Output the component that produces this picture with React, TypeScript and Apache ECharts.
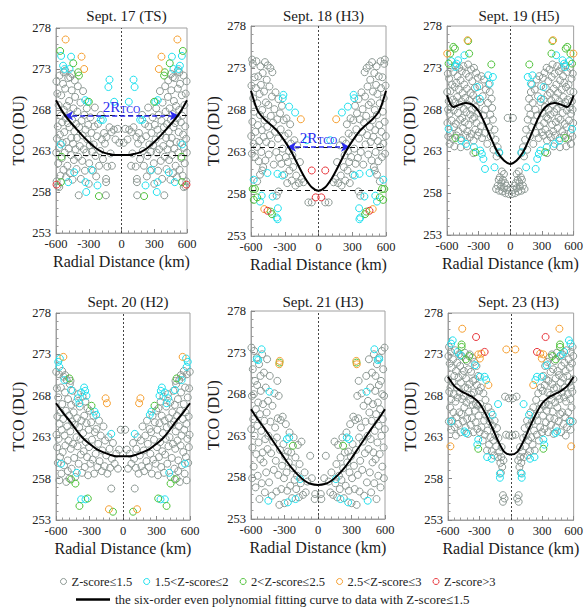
import React, { useEffect, useRef } from 'react';
import * as echarts from 'echarts';

const FONT = 'Liberation Serif';

// Z-score classes and their colours
const zLabels = ['Z-score≤1.5', '1.5<Z-score≤2', '2<Z-score≤2.5', '2.5<Z-score≤3', 'Z-score>3'];
const zColors = ['#8d9994', '#1fe0ee', '#4fc23a', '#f6a032', '#e8363c'];
const curveLabel = 'the six-order even polynomial fitting curve to data with Z-score≤1.5';

const panelTitles = ['Sept. 17 (TS)', 'Sept. 18 (H3)', 'Sept. 19 (H5)', 'Sept. 20 (H2)', 'Sept. 21 (H3)', 'Sept. 23 (H3)'];

// axis ranges
const xRange = [-600, 600, 300];
const yRange = [253, 278, 5];

// Every panel is symmetric about 0 km: only the positive half is listed here,
// as [radial distance (km), TCO (DU)].

// ---- Sept. 17 ----
const p1Grey = [
  [20, 264.0], [35, 265.7], [70, 265.6], [92, 265.3], [110, 265.9], [55, 264.4], [100, 262.7], [88, 261.2],
  [130, 261.1], [141, 259.2], [141, 259.6], [143, 257.6], [152, 263.9], [137, 264.7], [160, 265.2], [170, 262.0],
  [180, 264.4], [195, 263.0], [205, 261.2], [215, 266.3], [225, 264.8], [232, 259.9], [238, 262.4], [248, 266.0],
  [255, 263.8], [244, 268.3], [190, 267.4], [262, 260.6], [270, 262.9], [275, 265.2], [285, 267.1], [290, 263.7],
  [296, 261.5], [300, 259.0], [305, 266.2], [312, 264.4], [318, 268.2], [322, 262.8], [330, 265.6], [335, 260.6],
  [340, 267.4], [345, 263.2], [352, 270.3], [356, 264.9], [360, 261.8], [366, 266.7], [372, 259.6], [376, 268.9],
  [382, 263.6], [388, 265.9], [392, 257.6], [396, 262.3], [400, 270.9], [404, 267.8], [408, 264.6], [412, 260.8],
  [416, 266.3], [420, 263.2], [425, 269.6], [428, 271.6], [432, 265.4], [436, 261.9], [440, 268.2], [444, 263.9],
  [448, 259.5], [452, 266.8], [456, 270.4], [460, 264.6], [464, 262.5], [468, 267.5], [472, 260.3], [476, 265.9],
  [480, 269.1], [484, 263.3], [488, 271.9], [492, 266.4], [496, 261.2], [500, 268.5], [504, 264.1], [508, 259.8],
  [512, 267.0], [516, 270.6], [520, 262.8], [524, 265.3], [528, 268.0], [532, 260.7], [536, 271.2], [540, 264.0],
  [544, 266.5], [548, 262.1], [552, 269.8], [556, 267.3], [560, 260.0], [564, 265.0], [568, 272.2], [572, 263.4],
  [576, 268.6], [580, 261.5], [584, 266.0], [588, 270.0], [592, 264.5], [596, 271.5], [598, 262.8], [594, 259.3],
  [586, 258.7], [570, 258.6], [455, 272.4], [470, 272.0], [530, 272.6], [515, 272.8],
];
const p1Cyan = [
  [110, 271.7], [120, 270.8], [67, 269.0], [171, 266.8], [190, 266.8], [310, 269.0], [332, 269.2], [462, 274.5],
  [553, 274.6], [535, 273.4], [476, 273.0], [522, 273.0], [556, 263.8], [275, 260.7], [220, 258.8], [330, 259.2],
  [323, 258.0], [433, 260.4], [488, 259.2],
];
const p1Green = [[562, 275.2], [442, 273.7], [397, 272.6], [390, 272.2], [299, 269.0], [549, 262.3], [555, 259.2], [207, 257.5]];
const p1Orange = [[512, 276.6], [366, 274.5], [342, 273.0]];
const p1Red = [[595, 258.9]];
const p1Curve = [
  [0, 262.5], [60, 262.5], [120, 262.65], [180, 262.9], [240, 263.4], [300, 264.1],
  [360, 264.9], [420, 265.8], [480, 266.7], [540, 267.8], [600, 269.2],
];
const p1Guides = [267.3, 262.5];
const p1Span = [525, 267.3];

// ---- Sept. 18 ----
const p2Grey = [
  [60, 257.0], [90, 257.0], [134, 259.4], [150, 259.8], [165, 261.8], [175, 259.3], [190, 263.8], [198, 260.2],
  [205, 259.0], [215, 264.4], [225, 261.2], [232, 262.6], [238, 259.6], [245, 264.0], [252, 266.3], [258, 260.8],
  [262, 263.1], [268, 265.2], [272, 261.8], [278, 259.3], [285, 267.0], [290, 262.4], [300, 264.9], [305, 260.3],
  [310, 266.8], [318, 263.4], [325, 268.5], [330, 261.6], [336, 265.7], [342, 267.6], [350, 262.3], [356, 269.3],
  [360, 264.6], [366, 266.9], [372, 257.8], [356, 258.3], [376, 263.0], [382, 270.1], [388, 265.4], [392, 268.1],
  [398, 261.5], [404, 266.5], [410, 272.5], [414, 269.6], [418, 263.9], [424, 267.3], [428, 273.0], [432, 265.0],
  [436, 270.8], [442, 262.7], [446, 268.6], [452, 273.3], [456, 266.0], [460, 271.6], [464, 264.2], [468, 268.9],
  [472, 262.0], [476, 273.7], [480, 266.8], [484, 270.2], [488, 264.8], [492, 261.2], [496, 272.4], [500, 268.0],
  [504, 265.6], [508, 263.0], [512, 271.0], [516, 273.2], [520, 267.4], [524, 269.9], [528, 264.3], [532, 261.9],
  [536, 272.0], [540, 266.2], [544, 268.8], [548, 263.6], [552, 273.8], [556, 270.6], [560, 265.4], [564, 262.4],
  [568, 271.9], [572, 267.8], [576, 264.0], [580, 269.4], [584, 273.5], [588, 266.6], [592, 262.8], [596, 270.9],
  [598, 264.9], [590, 274.0], [520, 260.3], [545, 259.5], [500, 260.8],
];
const p2Cyan = [
  [312, 269.8], [318, 269.4], [261, 268.4], [208, 267.7], [104, 264.4], [321, 260.2], [365, 260.4], [454, 260.5],
  [576, 259.7], [505, 257.8], [520, 257.1], [408, 257.7], [361, 256.3], [364, 255.0], [372, 255.2],
];
const p2Green = [[585, 258.6], [565, 258.6], [575, 257.3], [545, 257.6], [414, 255.6], [425, 255.9]];
const p2Orange = [[157, 266.9], [482, 256.2]];
const p2Red = [[60, 260.8], [25, 257.6], [453, 256.0]];
const p2Curve = [
  [0, 258.4], [60, 258.8], [120, 259.9], [180, 261.4], [240, 263.0], [300, 264.3],
  [360, 265.4], [420, 266.2], [480, 266.9], [540, 267.9], [600, 270.3],
];
const p2Guides = [263.6, 258.4];
const p2Span = [280, 263.6];

// ---- Sept. 19 ----
const p3Grey = [
  [15, 257.9], [30, 258.4], [45, 258.0], [60, 258.6], [75, 258.2], [90, 258.8], [105, 258.3], [120, 258.9],
  [135, 258.5], [50, 259.2], [70, 259.6], [85, 259.3], [100, 259.9], [60, 260.3], [80, 260.6], [40, 258.9],
  [110, 259.6], [25, 267.0], [105, 262.8], [120, 263.5], [130, 262.4], [140, 264.4], [150, 265.6], [160, 263.2],
  [165, 266.8], [172, 268.2], [178, 269.3], [185, 264.8], [190, 267.4], [195, 270.1], [200, 265.9], [205, 271.0],
  [212, 268.8], [218, 263.9], [225, 266.6], [232, 270.4], [238, 268.0], [244, 265.2], [250, 271.6], [256, 267.3],
  [262, 269.6], [268, 264.6], [274, 272.0], [280, 266.0], [286, 268.9], [292, 270.8], [298, 265.3], [304, 267.6],
  [308, 271.8], [312, 264.9], [316, 269.2], [320, 266.4], [324, 272.4], [328, 268.3], [332, 265.6], [336, 270.6],
  [340, 267.1], [344, 273.0], [348, 264.3], [352, 269.7], [356, 266.9], [360, 271.4], [364, 268.0], [368, 265.1],
  [372, 272.8], [376, 270.0], [380, 267.4], [384, 264.7], [388, 269.1], [392, 271.9], [396, 266.2], [400, 273.4],
  [404, 268.6], [408, 265.4], [412, 270.5], [416, 267.7], [420, 272.3], [424, 264.9], [428, 269.4], [432, 266.5],
  [436, 271.0], [440, 268.1], [444, 273.2], [448, 265.8], [452, 270.0], [456, 267.0], [460, 272.6], [464, 269.0],
  [468, 264.6], [472, 271.5], [476, 266.8], [480, 268.6], [484, 273.0], [488, 270.4], [492, 265.4], [496, 267.6],
  [500, 272.0], [504, 269.5], [508, 264.9], [512, 271.2], [516, 266.3], [520, 268.9], [524, 273.3], [528, 270.7],
  [532, 265.9], [536, 267.9], [540, 272.5], [544, 269.2], [548, 264.5], [552, 271.0], [556, 266.7], [560, 268.3],
  [564, 273.0], [568, 270.2], [572, 265.2], [576, 267.5], [580, 271.7], [584, 269.0], [588, 264.8], [592, 272.3],
  [596, 266.4], [598, 270.1], [590, 268.0], [575, 263.9], [530, 263.6], [470, 263.5], [410, 263.6], [350, 262.8],
];
const p3Cyan = [
  [165, 271.9], [210, 272.1], [195, 271.1], [315, 270.7], [290, 269.3], [435, 274.5], [495, 273.9], [510, 273.5],
  [520, 273.1], [585, 265.7], [465, 264.3], [420, 263.9], [345, 263.5], [285, 263.1], [270, 262.7], [255, 262.1],
  [150, 261.1], [240, 260.9], [105, 262.9], [560, 273.8],
];
const p3Green = [[180, 273.4], [399, 276.2], [390, 274.7], [525, 275.3], [540, 275.5], [570, 274.7], [585, 273.5], [330, 262.9], [520, 264.6]];
const p3Orange = [[405, 276.3], [598, 274.7]];
const p3Red: number[][] = [];
const p3Curve = [
  [0, 261.5], [60, 261.9], [120, 262.9], [180, 264.5], [240, 266.3], [300, 267.8],
  [360, 268.6], [420, 268.8], [480, 268.6], [540, 268.3], [600, 269.7],
];

// ---- Sept. 20 ----
const p4Grey = [
  [20, 263.9], [105, 256.8], [35, 261.5], [45, 259.2], [60, 261.0], [75, 259.8], [90, 262.3], [100, 260.4],
  [115, 259.3], [120, 261.6], [130, 263.0], [140, 258.6], [150, 260.8], [160, 262.6], [165, 259.5], [175, 264.3],
  [185, 261.4], [190, 258.9], [200, 263.2], [210, 260.1], [215, 265.0], [222, 262.2], [230, 259.4], [238, 264.0],
  [245, 261.0], [252, 263.6], [258, 258.6], [265, 265.6], [272, 260.3], [278, 262.7], [285, 264.8], [292, 259.8],
  [298, 266.2], [304, 261.8], [308, 263.9], [313, 258.4], [318, 266.5], [322, 260.6], [327, 264.7], [332, 262.4],
  [337, 267.3], [342, 259.4], [347, 265.6], [352, 261.3], [357, 263.5], [362, 267.9], [367, 258.7], [372, 265.0],
  [377, 260.9], [382, 262.8], [387, 266.7], [392, 264.2], [397, 259.8], [402, 268.2], [407, 261.9], [412, 265.3],
  [417, 263.0], [422, 267.2], [427, 258.2], [432, 264.5], [437, 260.5], [442, 266.0], [447, 262.2], [452, 268.6],
  [456, 264.9], [460, 259.2], [464, 266.9], [468, 261.6], [472, 263.7], [476, 269.4], [480, 258.0], [484, 265.6],
  [488, 262.6], [492, 267.6], [496, 260.2], [500, 264.3], [504, 269.9], [508, 257.6], [512, 266.2], [516, 262.0],
  [520, 268.4], [524, 263.2], [528, 259.6], [532, 270.3], [536, 265.2], [540, 261.2], [544, 267.0], [548, 263.9],
  [552, 258.6], [556, 269.0], [560, 266.0], [564, 260.6], [568, 264.6], [572, 270.6], [576, 262.8], [580, 267.8],
  [584, 259.9], [588, 265.5], [592, 268.9], [596, 263.3], [598, 270.9], [590, 261.8], [570, 257.8], [545, 271.0],
  [518, 270.5], [494, 258.9], [470, 269.8],
];
const p4Cyan = [
  [570, 271.5], [580, 272.1], [565, 272.5], [525, 269.9], [465, 268.7], [375, 268.4], [348, 269.0], [339, 268.6],
  [327, 268.0], [405, 267.7], [390, 267.1], [255, 266.1], [240, 265.7], [105, 263.4], [555, 259.8], [414, 258.7],
  [375, 255.5], [336, 255.5],
];
const p4Green = [[480, 270.1], [282, 266.8], [465, 257.9], [426, 257.4], [315, 255.6], [390, 254.7], [90, 254.0]];
const p4Orange = [[534, 272.7], [156, 267.7], [144, 267.1], [126, 254.3]];
const p4Red: number[][] = [];
const p4Curve = [
  [0, 260.7], [60, 260.7], [120, 260.9], [180, 261.2], [240, 261.6], [300, 262.2],
  [360, 262.9], [420, 263.9], [480, 265.0], [540, 266.0], [600, 267.1],
];

// ---- Sept. 21 ----
const p5Grey = [
  [30, 255.4], [25, 256.0], [70, 260.6], [55, 257.9], [95, 257.5], [110, 256.2], [120, 258.6], [135, 255.9],
  [148, 262.3], [155, 257.3], [165, 259.6], [172, 255.6], [180, 261.9], [188, 258.2], [195, 256.6], [202, 260.4],
  [210, 257.7], [218, 262.8], [225, 259.1], [232, 255.5], [240, 261.0], [248, 257.0], [255, 263.4], [262, 259.8],
  [270, 261.1], [276, 256.4], [282, 258.6], [288, 264.4], [294, 260.5], [300, 254.9], [305, 257.9], [310, 262.0],
  [316, 265.3], [322, 259.4], [328, 256.6], [334, 264.9], [340, 261.3], [346, 254.7], [352, 267.8], [356, 258.3],
  [360, 265.1], [364, 269.6], [368, 262.8], [372, 256.3], [378, 260.0], [384, 264.0], [390, 268.1], [396, 258.9],
  [402, 262.3], [408, 266.6], [414, 255.8], [420, 260.9], [426, 264.7], [432, 270.2], [438, 257.4], [444, 263.0],
  [448, 267.2], [452, 261.4], [456, 272.2], [460, 265.8], [464, 258.6], [468, 268.8], [472, 262.6], [476, 256.2],
  [480, 264.8], [484, 270.6], [488, 259.8], [492, 266.8], [496, 261.0], [500, 272.8], [504, 257.3], [508, 263.6],
  [512, 268.4], [516, 260.2], [520, 265.6], [524, 255.4], [528, 271.6], [532, 262.2], [536, 267.0], [540, 258.2],
  [544, 264.2], [548, 272.4], [552, 260.8], [556, 266.2], [560, 256.8], [564, 269.6], [568, 263.0], [572, 273.2],
  [576, 259.3], [580, 265.0], [584, 271.0], [588, 261.6], [592, 267.8], [596, 273.6], [598, 263.8], [590, 257.9],
  [575, 268.0], [545, 269.1], [515, 270.2],
];
const p5Cyan = [
  [505, 273.4], [535, 272.1], [548, 272.2], [435, 268.3], [258, 262.8], [279, 262.6], [160, 257.8], [201, 255.4],
  [270, 255.0], [445, 255.2],
];
const p5Green = [[225, 261.8], [345, 271.8]];
const p5Orange = [[343, 272.0], [347, 271.6]];
const p5Red: number[][] = [];
const p5Curve = [
  [0, 257.1], [60, 257.2], [120, 257.6], [180, 258.3], [240, 259.2], [300, 260.3],
  [360, 261.5], [420, 262.7], [480, 263.9], [540, 265.0], [600, 266.2],
];

// ---- Sept. 23 ----
const p6Grey = [
  [15, 263.2], [45, 263.3], [20, 267.7], [55, 267.9], [60, 255.6], [75, 256.0], [75, 255.2], [70, 260.2],
  [82, 259.4], [90, 260.6], [95, 258.7], [100, 259.9], [88, 261.8], [110, 261.2], [118, 262.9], [125, 260.6],
  [132, 264.1], [140, 261.9], [148, 263.2], [155, 265.0], [160, 260.8], [168, 262.6], [175, 264.4], [182, 261.3],
  [188, 266.0], [195, 263.0], [202, 264.9], [208, 262.1], [215, 266.6], [222, 263.8], [228, 261.4], [235, 265.6],
  [242, 267.5], [248, 263.3], [255, 265.0], [262, 268.3], [268, 262.6], [274, 266.4], [280, 264.2], [286, 269.0],
  [292, 267.0], [298, 263.6], [304, 268.6], [308, 265.6], [312, 270.4], [316, 266.8], [320, 264.0], [324, 269.3],
  [328, 271.6], [332, 267.0], [336, 264.8], [340, 270.0], [344, 266.2], [348, 272.1], [352, 268.4], [356, 263.6],
  [360, 269.8], [364, 266.9], [368, 272.6], [372, 265.3], [376, 268.1], [380, 270.9], [384, 264.5], [388, 267.5],
  [392, 273.0], [396, 269.4], [400, 266.1], [404, 271.2], [408, 263.4], [412, 268.9], [416, 265.2], [420, 272.2],
  [424, 267.2], [428, 270.1], [432, 264.2], [436, 269.0], [440, 273.2], [444, 266.6], [448, 271.0], [452, 268.0],
  [456, 264.9], [460, 270.5], [464, 267.6], [468, 272.8], [472, 265.8], [476, 269.6], [480, 263.6], [484, 271.6],
  [488, 268.4], [492, 266.0], [496, 273.0], [500, 270.2], [504, 264.6], [508, 267.8], [512, 272.0], [516, 269.0],
  [520, 265.4], [524, 271.0], [528, 267.3], [532, 273.5], [536, 264.2], [540, 270.4], [544, 268.2], [548, 266.0],
  [552, 272.4], [556, 269.6], [560, 265.0], [564, 271.4], [568, 267.6], [572, 273.3], [576, 269.0], [580, 266.6],
  [584, 271.9], [588, 268.5], [592, 264.9], [596, 272.8], [598, 270.0], [590, 273.9], [570, 263.9], [525, 263.2],
];
const p6Cyan = [
  [555, 274.7], [570, 274.3], [509, 273.3], [479, 272.9], [342, 271.7], [250, 270.3], [296, 270.3], [235, 269.9],
  [122, 267.0], [174, 265.7], [427, 263.5], [442, 263.7], [570, 264.9], [311, 262.7], [320, 262.1], [226, 260.6],
  [183, 260.4], [104, 258.6], [104, 258.1],
];
const p6Green = [[470, 274.2], [470, 273.9], [397, 272.8], [311, 261.6], [430, 272.4]];
const p6Orange = [[464, 276.1], [43, 273.6], [281, 273.1], [311, 273.0], [296, 272.5], [214, 269.3], [577, 261.9]];
const p6Red = [[332, 275.1], [250, 273.3]];
const p6Curve = [
  [0, 260.9], [60, 261.2], [120, 262.5], [180, 264.2], [240, 265.8], [300, 267.1],
  [360, 267.8], [420, 268.2], [480, 268.6], [540, 269.2], [600, 270.3],
];

type Panel = {
  groups: number[][][];
  curve: number[][];
  guides?: number[];
  span?: number[];
};

const panels: Panel[] = [
  { groups: [p1Grey, p1Cyan, p1Green, p1Orange, p1Red], curve: p1Curve, guides: p1Guides, span: p1Span },
  { groups: [p2Grey, p2Cyan, p2Green, p2Orange, p2Red], curve: p2Curve, guides: p2Guides, span: p2Span },
  { groups: [p3Grey, p3Cyan, p3Green, p3Orange, p3Red], curve: p3Curve },
  { groups: [p4Grey, p4Cyan, p4Green, p4Orange, p4Red], curve: p4Curve },
  { groups: [p5Grey, p5Cyan, p5Green, p5Orange, p5Red], curve: p5Curve },
  { groups: [p6Grey, p6Cyan, p6Green, p6Orange, p6Red], curve: p6Curve },
];

// plot areas in pixels
const gridBoxes = [
  { left: 56, top: 28, width: 131, height: 205 },
  { left: 251, top: 26, width: 135, height: 210 },
  { left: 447, top: 26, width: 134, height: 209 },
  { left: 56, top: 313, width: 134, height: 207 },
  { left: 251, top: 311, width: 134, height: 208 },
  { left: 448, top: 313, width: 131, height: 207 },
];

// reflect the positive half onto negative distances
const mirror = (pts: number[][]) => [
  ...pts.filter((p) => p[0] !== 0).map(([x, y]) => [-x, y]).reverse(),
  ...pts,
];

const BLUE = '#2a2af0';

function buildOption() {
  const grid = gridBoxes.map((b) => ({
    ...b,
    show: true,
    borderColor: '#a0a0a0',
    borderWidth: 1,
    backgroundColor: 'transparent',
  }));

  const title = panelTitles.map((t, i) => ({
    text: t,
    left: gridBoxes[i].left + gridBoxes[i].width / 2,
    top: i < 3 ? 3 : 289,
    textAlign: 'center',
    textStyle: { fontFamily: FONT, fontSize: 15, fontWeight: 400, color: '#1a1a1a' },
  }));

  const nameStyle = { fontFamily: FONT, fontSize: 16, fontWeight: 400, color: '#1a1a1a' };
  const tickLabel = { fontFamily: FONT, fontSize: 12.5, color: '#222' };

  const xAxis = gridBoxes.map((_, i) => ({
    gridIndex: i,
    type: 'value',
    min: xRange[0],
    max: xRange[1],
    interval: xRange[2],
    name: 'Radial Distance (km)',
    nameLocation: 'middle',
    nameGap: 20,
    nameTextStyle: nameStyle,
    axisLine: { show: true, onZero: false, lineStyle: { color: '#a0a0a0' } },
    axisTick: { show: true, inside: true, length: 4, lineStyle: { color: '#888' } },
    minorTick: { show: true, splitNumber: 5, length: 2.5, lineStyle: { color: '#999' } },
    axisLabel: { ...tickLabel, margin: 4 },
    splitLine: { show: false },
  }));

  const yAxis = gridBoxes.map((_, i) => ({
    gridIndex: i,
    type: 'value',
    min: yRange[0],
    max: yRange[1],
    interval: yRange[2],
    name: 'TCO (DU)',
    nameLocation: 'middle',
    nameGap: 30,
    nameTextStyle: nameStyle,
    axisLine: { show: true, onZero: false, lineStyle: { color: '#a0a0a0' } },
    axisTick: { show: true, inside: true, length: 4, lineStyle: { color: '#888' } },
    minorTick: { show: true, splitNumber: 5, length: 2.5, lineStyle: { color: '#999' } },
    axisLabel: { ...tickLabel, margin: 5 },
    splitLine: { show: false },
  }));

  const series: any[] = [];
  panels.forEach((p, i) => {
    p.groups.forEach((pts, k) => {
      series.push({
        type: 'scatter',
        name: zLabels[k],
        xAxisIndex: i,
        yAxisIndex: i,
        data: mirror(pts),
        symbol: 'circle',
        symbolSize: 7,
        silent: true,
        z: 2 + k,
        itemStyle: { color: 'rgba(0,0,0,0)', borderColor: zColors[k], borderWidth: 1, opacity: 1 },
      });
    });

    const markData: any[] = [
      { xAxis: 0, lineStyle: { type: [2, 2], color: '#444', width: 1 } },
    ];
    (p.guides || []).forEach((g) => {
      markData.push({ yAxis: g, lineStyle: { type: [5, 4], color: '#111', width: 1 } });
    });
    if (p.span) {
      const [half, level] = p.span;
      markData.push([
        {
          coord: [-half, level],
          symbol: 'arrow',
          symbolSize: [7, 9],
          lineStyle: { type: [5, 3], color: BLUE, width: 1.5 },
          label: {
            show: true,
            position: 'middle',
            distance: 1,
            formatter: '{a|2R}{b|TCO}',
            rich: {
              a: { fontFamily: FONT, fontSize: 15, color: BLUE },
              b: { fontFamily: FONT, fontSize: 10, color: BLUE, verticalAlign: 'bottom' },
            },
          },
        },
        { coord: [half, level], symbol: 'arrow', symbolSize: [7, 9] },
      ]);
    }

    series.push({
      type: 'line',
      name: curveLabel,
      xAxisIndex: i,
      yAxisIndex: i,
      data: mirror(p.curve),
      smooth: 0.3,
      symbol: 'none',
      silent: true,
      z: 10,
      lineStyle: { color: '#000', width: 2 },
      itemStyle: { color: '#000' },
      markLine: {
        silent: true,
        symbol: 'none',
        label: { show: false },
        data: markData,
      },
    });
  });

  const legend = [
    {
      data: zLabels.map((n, k) => ({
        name: n,
        icon: 'circle',
        itemStyle: { color: 'rgba(0,0,0,0)', borderColor: zColors[k], borderWidth: 1 },
      })),
      left: 55,
      top: 570,
      itemWidth: 6,
      itemHeight: 6,
      itemGap: 11,
      selectedMode: false,
      textStyle: { fontFamily: FONT, fontSize: 12.5, color: '#222' },
    },
    {
      data: [{
        name: curveLabel,
        icon: 'rect',
        itemStyle: { color: '#000', borderWidth: 0 },
      }],
      left: 71,
      top: 588,
      itemWidth: 34,
      itemHeight: 2.5,
      selectedMode: false,
      textStyle: { fontFamily: FONT, fontSize: 13, color: '#222' },
    },
  ];

  return {
    animation: false,
    backgroundColor: '#ffffff',
    textStyle: { fontFamily: FONT },
    title,
    grid,
    xAxis,
    yAxis,
    legend,
    series,
  };
}

export default function App() {
  const ref = useRef<HTMLDivElement>(null);
  useEffect(() => {
    if (!ref.current) return;
    const chart = echarts.init(ref.current, undefined, { renderer: 'svg' });
    chart.setOption(buildOption() as any);
    return () => chart.dispose();
  }, []);
  return (
    <div
      ref={ref}
      style={{ position: 'fixed', left: 0, top: 0, width: 586, height: 609 }}
    />
  );
}
